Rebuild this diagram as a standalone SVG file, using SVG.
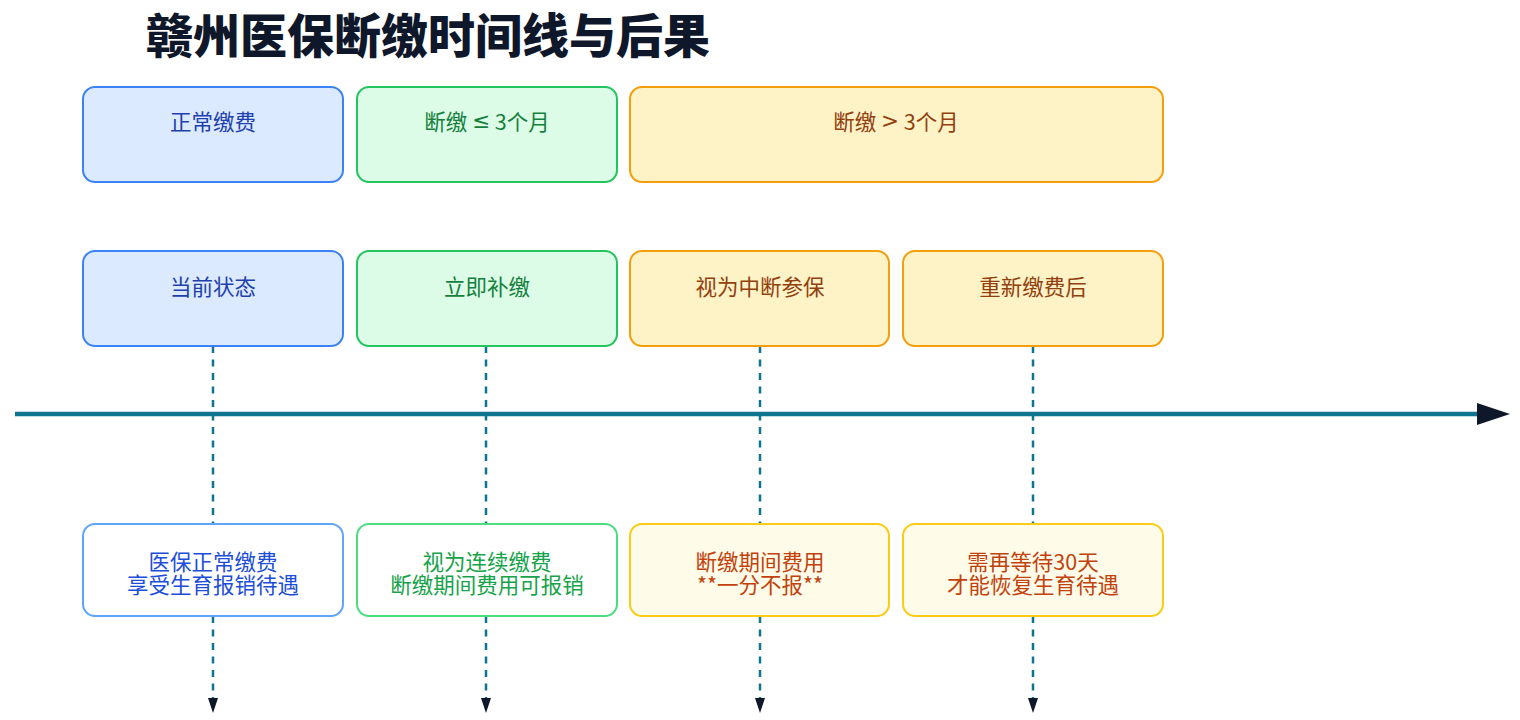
<svg xmlns="http://www.w3.org/2000/svg" width="1520" height="720" viewBox="0 0 1520 720">
<defs>
<style>
text{font-family:"Noto Sans CJK SC","Noto Sans",sans-serif;text-anchor:middle;dominant-baseline:central}
.t{font-size:21.5px}
.sym{font-family:"DejaVu Sans",sans-serif}
.title{font-size:47px;font-weight:900;fill:#0f172a}
.blue rect{fill:#dbeafe;stroke:#3b82f6;stroke-width:2}
.blue text{fill:#1e40af}
.green rect{fill:#dcfce7;stroke:#22c55e;stroke-width:2}
.green text{fill:#15803d}
.orange rect{fill:#fef3c7;stroke:#f59e0b;stroke-width:2}
.orange text{fill:#92400e}
.rblue rect{fill:#ffffff;stroke:#60a5fa;stroke-width:2}
.rblue text{fill:#1d4ed8}
.rgreen rect{fill:#ffffff;stroke:#4ade80;stroke-width:2}
.rgreen text{fill:#16a34a}
.ryellow rect{fill:#fefce8;stroke:#facc15;stroke-width:2}
.ryellow text{fill:#c2410c}
.dash{stroke:#0e7490;stroke-width:2.5;stroke-dasharray:7 6.5;fill:none}
</style>
<marker id="mh" markerWidth="33" markerHeight="22" refX="0" refY="11" orient="auto" markerUnits="userSpaceOnUse">
<path d="M0,0 L33,11 L0,22 Z" fill="#0f172a"/>
</marker>
<marker id="md" markerWidth="10" markerHeight="15" refX="5" refY="0" orient="0" markerUnits="userSpaceOnUse">
<path d="M0,0 L10,0 L5,15 Z" fill="#0f172a"/>
</marker>
</defs>
<rect width="1520" height="720" fill="#ffffff"/>
<text class="title" x="428" y="32">赣州医保断缴时间线与后果</text>

<g id="connectors">
<line x1="15" y1="414" x2="1477" y2="414" stroke="#0e7490" stroke-width="4.5" marker-end="url(#mh)"/>
<line class="dash" x1="213" y1="346" x2="213" y2="524"/>
<line class="dash" x1="486" y1="346" x2="486" y2="524"/>
<line class="dash" x1="760" y1="346" x2="760" y2="524"/>
<line class="dash" x1="1033" y1="346" x2="1033" y2="524"/>
<line class="dash" x1="213" y1="616" x2="213" y2="698" marker-end="url(#md)"/>
<line class="dash" x1="486" y1="616" x2="486" y2="698" marker-end="url(#md)"/>
<line class="dash" x1="760" y1="616" x2="760" y2="698" marker-end="url(#md)"/>
<line class="dash" x1="1033" y1="616" x2="1033" y2="698" marker-end="url(#md)"/>
</g>

<g id="phase-normal" class="blue"><rect x="83" y="87" width="260" height="95" rx="12"/><text class="t" x="213" y="120">正常缴费</text></g>
<g id="phase-short" class="green"><rect x="357" y="87" width="260" height="95" rx="12"/><text class="t" x="487" y="120">断缴 <tspan class="sym">≤</tspan> 3个月</text></g>
<g id="phase-long" class="orange"><rect x="630" y="87" width="533" height="95" rx="12"/><text class="t" x="896" y="120">断缴 <tspan class="sym">&gt;</tspan> 3个月</text></g>

<g id="ev-current" class="blue"><rect x="83" y="251" width="260" height="95" rx="12"/><text class="t" x="213" y="285">当前状态</text></g>
<g id="ev-repay" class="green"><rect x="357" y="251" width="260" height="95" rx="12"/><text class="t" x="487" y="285">立即补缴</text></g>
<g id="ev-interrupt" class="orange"><rect x="630" y="251" width="259" height="95" rx="12"/><text class="t" x="760" y="285">视为中断参保</text></g>
<g id="ev-resume" class="orange"><rect x="903" y="251" width="260" height="95" rx="12"/><text class="t" x="1033" y="285">重新缴费后</text></g>

<g id="res-current" class="rblue"><rect x="83" y="524" width="260" height="92" rx="12"/><text class="t"><tspan x="213" y="560">医保正常缴费</tspan><tspan x="213" y="583">享受生育报销待遇</tspan></text></g>
<g id="res-repay" class="rgreen"><rect x="357" y="524" width="260" height="92" rx="12"/><text class="t"><tspan x="487" y="560">视为连续缴费</tspan><tspan x="487" y="583">断缴期间费用可报销</tspan></text></g>
<g id="res-interrupt" class="ryellow"><rect x="630" y="524" width="259" height="92" rx="12"/><text class="t"><tspan x="760" y="560">断缴期间费用</tspan><tspan x="760" y="583">**一分不报**</tspan></text></g>
<g id="res-resume" class="ryellow"><rect x="903" y="524" width="260" height="92" rx="12"/><text class="t"><tspan x="1033" y="560">需再等待30天</tspan><tspan x="1033" y="583">才能恢复生育待遇</tspan></text></g>
</svg>
